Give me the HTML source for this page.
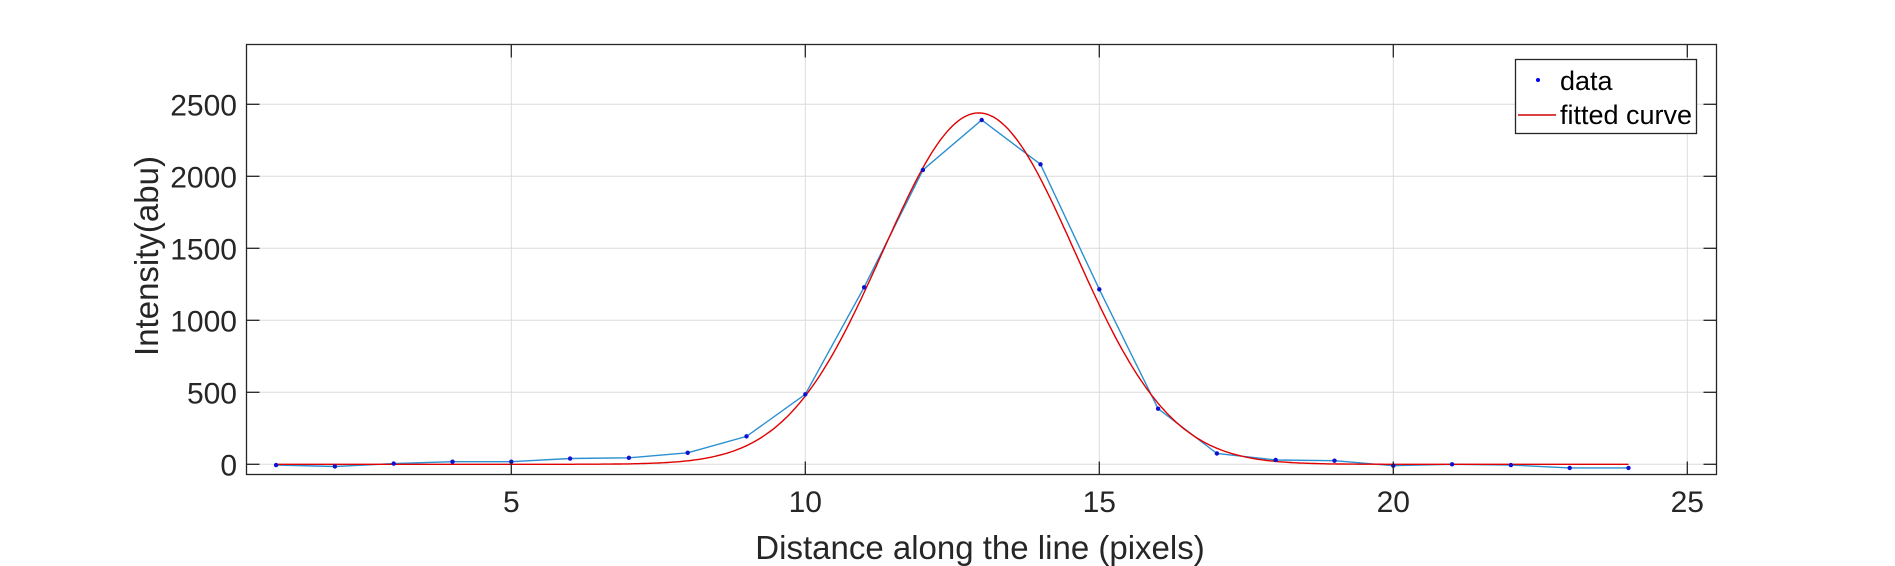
<!DOCTYPE html>
<html><head><meta charset="utf-8"><style>
html,body{margin:0;padding:0;background:#fff;}
svg{display:block;font-family:"Liberation Sans",Arial,sans-serif;}
</style></head><body>
<svg id="chart" width="1895" height="566" viewBox="0 0 1895 566">
<rect x="0" y="0" width="1895" height="566" fill="#fff"/>
<g id="grid"></g>
<g id="series"></g>
<rect x="246.5" y="44.5" width="1470" height="430" fill="none" stroke="#262626" stroke-width="1.3"/>
<g id="ticks"></g>
<text x="980" y="559" font-size="33" text-anchor="middle" fill="#262626">Distance along the line (pixels)</text>
<text transform="translate(158,256) rotate(-90)" font-size="33" text-anchor="middle" fill="#262626">Intensity(abu)</text>
<g>
<rect x="1515.5" y="59.5" width="181" height="74" fill="#fff" stroke="#262626" stroke-width="1.3"/>
<circle cx="1538" cy="80" r="2" fill="#0000ff"/>
<text x="1560" y="90" font-size="27" fill="#000">data</text>
<line x1="1518" y1="115" x2="1556" y2="115" stroke="#d00000" stroke-width="1.5"/>
<text x="1560" y="124" font-size="27" fill="#000">fitted curve</text>
</g>
</svg>
<script>
const xs = [1,2,3,4,5,6,7,8,9,10,11,12,13,14,15,16,17,18,19,20,21,22,23,24];
const ys = [-5,-15,5,18,18,40,45,80,194,486,1229,2044,2391,2083,1215,386,75,30,25,-10,0,-5,-25,-25];
const fitParams = [2440, 12.95, 1.63]; // amplitude, center, sigma
const xTicks = [5,10,15,20,25];
const yTicks = [0,500,1000,1500,2000,2500];

const NS = "http://www.w3.org/2000/svg";
const L = 246.5, R = 1716.5, T = 44.5, B = 474.5;
function sx(v){ return 276.1 + (v - 1) * 58.8; }
function sy(v){ return 464.3 - v * 72 / 500; }
function mk(tag, attrs, parent){ const e = document.createElementNS(NS, tag); for (const k in attrs) e.setAttribute(k, attrs[k]); parent.appendChild(e); return e; }

const grid = document.getElementById('grid');
const ticks = document.getElementById('ticks');
const series = document.getElementById('series');

xTicks.forEach(t => {
  const x = sx(t);
  const g = mk('line', {x1:x, y1:T, x2:x, y2:B, stroke:'#dcdcdc', 'stroke-width':1}, grid);
  
  
  const a = mk('line', {x1:x, y1:B, x2:x, y2:B-13, stroke:'#262626', 'stroke-width':1.3}, ticks);
  
  
  const b = mk('line', {x1:x, y1:T, x2:x, y2:T+13, stroke:'#262626', 'stroke-width':1.3}, ticks);
  
  
  const tx = mk('text', {x:x, y:512, 'font-size':30, 'text-anchor':'middle', fill:'#262626'}, ticks);
  tx.textContent = String(t);
  
  
});
yTicks.forEach(t => {
  const y = sy(t);
  const g = mk('line', {x1:L, y1:y, x2:R, y2:y, stroke:'#dcdcdc', 'stroke-width':1}, grid);
  
  
  const a = mk('line', {x1:L, y1:y, x2:L+13, y2:y, stroke:'#262626', 'stroke-width':1.3}, ticks);
  
  
  const b = mk('line', {x1:R, y1:y, x2:R-13, y2:y, stroke:'#262626', 'stroke-width':1.3}, ticks);
  
  
  const tx = mk('text', {x:237, y:y+11, 'font-size':30, 'text-anchor':'end', fill:'#262626'}, ticks);
  tx.textContent = String(t);
  
  
});

// data connecting line
const pts = xs.map((x,i) => sx(x).toFixed(1) + ',' + sy(ys[i]).toFixed(1)).join(' ');
const dl = mk('polyline', {points:pts, fill:'none', stroke:'#2b8fd0', 'stroke-width':1.4}, series);



// fitted curve
const fp = [];
for (let x = xs[0]; x <= xs[xs.length-1] + 1e-9; x += 0.05) {
  const v = fitParams[0] * Math.exp(-Math.pow((x - fitParams[1]) / fitParams[2], 2) / 2);
  fp.push(sx(x).toFixed(1) + ',' + sy(v).toFixed(1));
}
const fl = mk('polyline', {points:fp.join(' '), fill:'none', stroke:'#e00000', 'stroke-width':1.4}, series);



xs.forEach((x,i) => {
  const c = mk('circle', {cx:sx(x), cy:sy(ys[i]), r:2.2, fill:'#1010d0'}, series);
  
  
});
</script>
</body></html>
